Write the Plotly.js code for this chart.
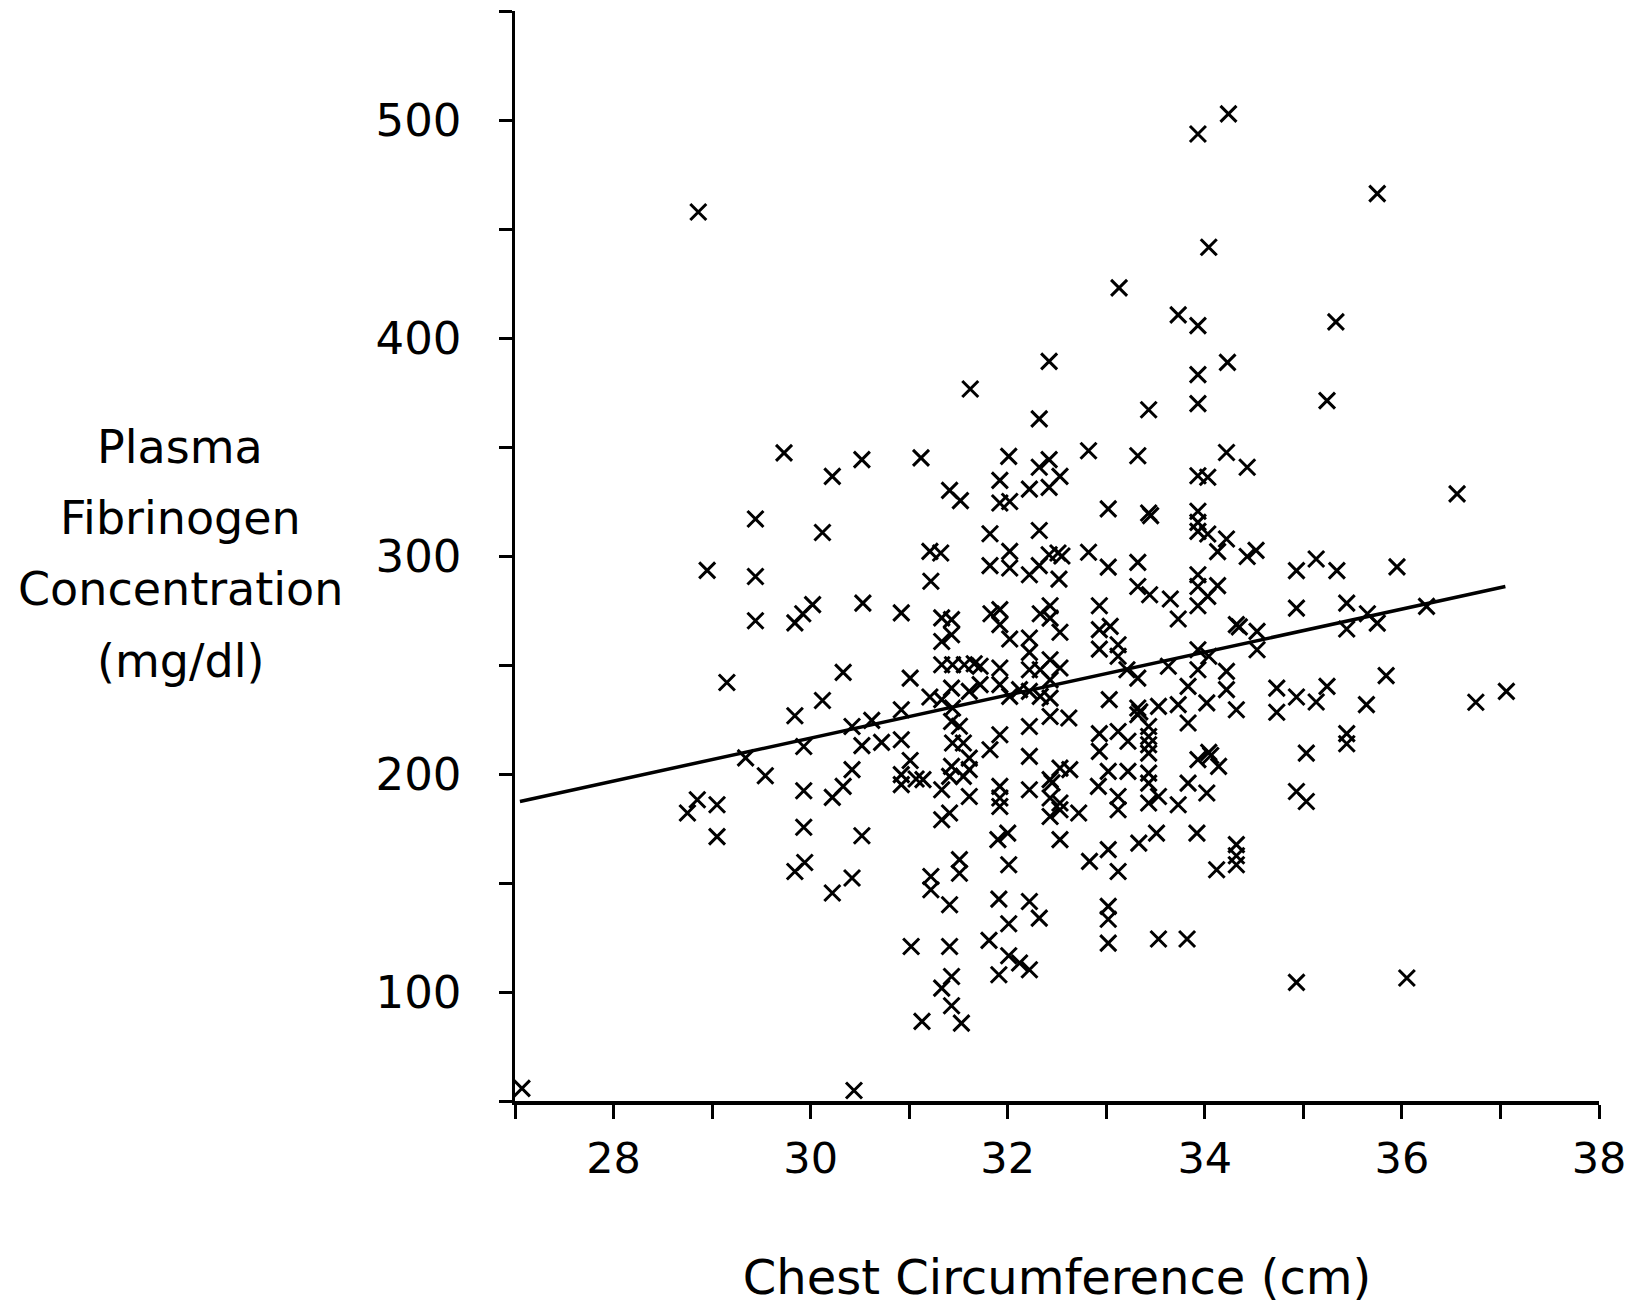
<!DOCTYPE html>
<html>
<head>
<meta charset="utf-8">
<script src="https://cdn.plot.ly/plotly-3.0.1.min.js"></script>
<style>
  html, body { margin: 0; padding: 0; background: #ffffff; }
  #chart { width: 1641px; height: 1312px; }
</style>
</head>
<body>
<div id="chart"></div>
<script>
// ---- Data ----
const chestCm = [
  27.07, 30.44,
  28.86,
  34.24, 33.93, 34.04, 33.13, 33.73, 33.93,
  35.75, 35.33,
  29.73, 30.22, 30.52, 31.12, 31.41, 29.44, 30.12, 31.21, 31.32, 31.22, 28.95, 29.44,
  32.42, 31.62, 32.32, 33.43, 33.93, 34.23, 33.93, 32.01, 32.42, 32.32, 32.82, 33.32, 34.22, 34.43,
  31.92, 32.22, 32.42, 32.53, 33.93, 34.03, 31.52, 31.92, 32.02, 33.02, 33.43, 33.45, 33.93, 33.93,
  33.93, 34.03, 34.22, 34.13, 34.43, 34.52, 31.82, 32.32, 32.02, 31.82, 32.02, 32.22, 32.32, 32.42,
  32.51, 32.55, 32.52, 32.82, 33.02, 33.32, 33.32, 33.44, 33.65, 33.93, 33.93, 34.13, 34.03,
  35.24, 36.56, 34.93, 35.13, 35.34, 35.95,
  29.15, 30.33, 30.12, 29.84, 31.01, 30.92, 31.21, 31.33, 31.43, 31.33, 31.43, 31.33, 31.44, 31.43,
  31.33, 31.44, 31.43, 31.44, 31.43, 31.41, 31.33, 31.41, 31.33, 30.42, 30.62, 30.52, 30.72, 30.92,
  31.01, 30.92, 30.92, 31.07, 31.14, 29.34, 29.93, 29.54, 30.42, 30.33, 30.22, 29.93, 28.85, 29.05,
  28.75, 29.93, 29.05, 30.52, 30.02, 30.53, 29.44, 29.84, 29.92, 30.92,
  33.93, 33.73, 34.32, 34.35, 34.53, 34.53, 33.93, 34.04, 33.93, 33.63, 33.32, 33.21, 33.12, 33.12,
  33.04, 32.93, 32.93, 32.93, 32.43, 32.43, 32.33, 32.53, 31.92, 31.83, 31.92, 32.02, 32.22, 32.22,
  32.22, 32.43, 32.53, 32.33, 32.43, 32.43, 32.33, 32.22, 32.12, 32.02, 31.92, 31.92, 31.72, 31.66,
  31.56, 31.61, 31.72, 31.51, 31.55, 31.61, 31.61, 31.55, 31.61, 31.92, 31.82, 32.22, 32.22, 31.92,
  31.92, 31.92, 32.22, 32.43, 32.62, 32.43, 32.45, 32.53, 32.63, 32.43, 32.53, 32.43, 32.53, 32.72,
  33.03, 33.32, 33.34, 33.32, 33.53, 33.73, 33.83, 33.83, 34.02, 34.22, 34.22, 34.32, 32.93, 32.93,
  33.12, 33.22, 33.22, 33.02, 33.43, 33.43, 33.43, 33.43, 33.43, 33.43, 33.43, 33.53, 32.92, 33.12,
  33.12, 33.73, 33.83, 34.02, 33.93, 34.04, 34.06, 34.14, 32.00, 31.90, 32.53, 33.51, 33.92, 33.33,
  34.32,
  34.93, 35.44, 35.65, 35.75, 35.44, 36.25, 35.84, 34.73, 34.93, 35.13, 35.24, 34.73, 35.64, 35.44,
  35.44, 35.03, 34.93, 35.03, 36.75, 37.06,
  29.94, 29.84, 30.42, 30.22, 31.22, 31.22, 31.41, 31.02, 31.41, 31.43, 31.33, 31.43, 31.13,
  31.51, 31.51, 31.53, 32.01, 33.02, 32.83, 33.12, 34.32, 34.32, 34.12, 31.91, 32.22, 32.32, 32.01,
  33.02, 33.02, 31.81, 32.01, 32.12, 32.22, 31.91, 33.02, 33.53, 33.82,
  34.93, 36.05
];
const fibrinogen = [
  55.8, 54.8,
  457.8,
  502.8, 493.6, 441.6, 423.0, 410.6, 405.7,
  466.2, 407.4,
  347.3, 336.5, 344.2, 345.0, 330.1, 317.0, 310.8, 302.1, 301.4, 288.4, 293.4, 290.6,
  389.3, 376.6, 362.9, 367.1, 383.2, 388.8, 369.9, 345.7, 344.2, 340.7, 348.3, 346.0, 347.5, 340.7,
  334.7, 330.7, 331.5, 336.5, 336.8, 336.1, 325.4, 324.3, 325.0, 321.6, 319.7, 318.5, 320.5, 315.4,
  311.3, 310.1, 307.8, 302.0, 299.8, 302.6, 310.2, 311.7, 302.1, 295.6, 294.5, 291.4, 295.6, 300.6,
  301.4, 300.0, 289.4, 301.7, 294.9, 297.1, 286.0, 282.2, 280.3, 291.4, 286.0, 286.4, 281.5,
  371.3, 328.5, 293.3, 298.6, 293.3, 295.0,
  242.0, 246.6, 233.7, 226.7, 244.0, 229.5, 235.3, 271.6, 270.8, 260.8, 263.9, 250.1, 250.1, 239.4,
  234.1, 230.3, 224.1, 214.2, 203.5, 198.9, 192.8, 182.1, 179.0, 221.8, 224.6, 213.0, 214.5, 215.7,
  206.2, 199.7, 195.1, 197.7, 197.4, 207.4, 212.6, 199.2, 202.0, 194.3, 189.3, 192.3, 188.2, 185.9,
  182.1, 175.6, 171.3, 171.7, 277.7, 278.4, 270.3, 269.3, 273.5, 273.9,
  277.2, 271.1, 268.5, 267.5, 265.4, 257.0, 257.0, 254.0, 247.8, 249.4, 244.0, 247.8, 259.3, 254.0,
  267.7, 277.2, 266.2, 257.3, 277.2, 271.5, 273.5, 265.0, 275.4, 273.5, 268.5, 261.9, 262.4, 255.8,
  247.8, 252.4, 248.6, 247.8, 243.2, 234.8, 235.6, 237.9, 238.7, 235.6, 248.6, 241.0, 249.4, 250.6,
  250.1, 237.9, 241.0, 221.9, 214.2, 207.3, 202.0, 198.9, 189.7, 218.0, 211.1, 221.8, 208.1, 194.3,
  189.0, 185.1, 192.8, 226.4, 225.7, 197.4, 196.0, 202.7, 202.0, 189.0, 186.7, 180.5, 183.6, 182.1,
  234.1, 230.3, 228.5, 227.2, 231.0, 231.8, 240.2, 223.4, 232.6, 247.1, 238.7, 229.5, 218.5, 210.4,
  219.5, 215.0, 201.2, 201.2, 221.8, 217.2, 213.4, 209.6, 200.4, 195.8, 186.7, 189.7, 194.3, 189.7,
  183.6, 185.9, 195.8, 191.3, 206.6, 209.9, 208.5, 203.5, 172.9, 169.9, 169.9, 172.9, 172.9, 168.3,
  167.6,
  276.1, 278.4, 273.5, 269.2, 266.5, 276.9, 245.1, 239.4, 235.3, 233.0, 240.2, 228.3, 231.8, 218.5,
  213.9, 209.6, 192.0, 187.4, 232.9, 237.9,
  159.4, 155.3, 152.3, 145.4, 153.0, 146.9, 140.0, 120.9, 120.9, 107.1, 101.8, 93.7, 86.5,
  160.7, 154.5, 85.7, 158.4, 165.3, 159.9, 155.3, 162.5, 158.4, 156.1, 142.6, 141.5, 133.9, 131.3,
  139.3, 133.4, 123.7, 116.6, 113.3, 110.2, 107.9, 122.4, 124.3, 124.3,
  104.4, 106.4
];

// regression line end points
const fitX = [27.05, 37.05];
const fitY = [187.4, 286.0];

// axis ticks
const xTickVals = [27, 28, 29, 30, 31, 32, 33, 34, 35, 36, 37, 38];
const xTickText = ['', '28', '', '30', '', '32', '', '34', '', '36', '', '38'];
const yTickVals = [50, 100, 150, 200, 250, 300, 350, 400, 450, 500, 550];
const yTickText = ['', '100', '', '200', '', '300', '', '400', '', '500', ''];

const yTitleLines = ['Plasma', 'Fibrinogen', 'Concentration', '(mg/dl)'];
const xTitle = 'Chest Circumference (cm)';

// ---- Chart ----
const FONT = 'DejaVu Sans, Verdana, sans-serif';

const traces = [
  {
    type: 'scatter',
    mode: 'markers',
    x: chestCm,
    y: fibrinogen,
    marker: { symbol: 'x-thin', size: 16, color: '#000', line: { color: '#000', width: 3 } },
    showlegend: false,
    hoverinfo: 'x+y'
  },
  {
    type: 'scatter',
    mode: 'lines',
    x: fitX,
    y: fitY,
    line: { color: '#000', width: 3.5 },
    showlegend: false,
    hoverinfo: 'skip'
  }
];

const lineYs = [0.600, 0.535, 0.470, 0.404];
const annotations = yTitleLines.map((t, i) => ({
  text: t,
  xref: 'paper', yref: 'paper',
  x: -0.309, y: lineYs[i],
  xanchor: 'center', yanchor: 'middle',
  showarrow: false,
  font: { family: FONT, size: 46, color: '#000' }
}));

const layout = {
  width: 1641,
  height: 1312,
  paper_bgcolor: '#fff',
  plot_bgcolor: '#fff',
  margin: { l: 515, r: 42, t: 11, b: 211 },
  showlegend: false,
  font: { family: FONT, color: '#000' },
  xaxis: {
    range: [27, 38],
    tickmode: 'array',
    tickvals: xTickVals,
    ticktext: xTickText,
    ticks: 'outside',
    ticklen: 14,
    tickwidth: 3,
    tickcolor: '#000',
    showline: true,
    linecolor: '#000',
    linewidth: 4,
    showgrid: false,
    zeroline: false,
    tickfont: { family: FONT, size: 43, color: '#000' },
    ticklabelstandoff: 2,
    title: { text: xTitle, font: { family: FONT, size: 48, color: '#000' }, standoff: 80 }
  },
  yaxis: {
    range: [50, 550],
    tickmode: 'array',
    tickvals: yTickVals,
    ticktext: yTickText,
    ticks: 'outside',
    ticklen: 13,
    tickwidth: 3,
    tickcolor: '#000',
    showline: true,
    linecolor: '#000',
    linewidth: 3.5,
    showgrid: false,
    zeroline: false,
    tickfont: { family: FONT, size: 45, color: '#000' },
    ticklabelstandoff: 28
  },
  annotations: annotations
};

Plotly.newPlot('chart', traces, layout, { displayModeBar: false, staticPlot: true });
</script>
</body>
</html>
